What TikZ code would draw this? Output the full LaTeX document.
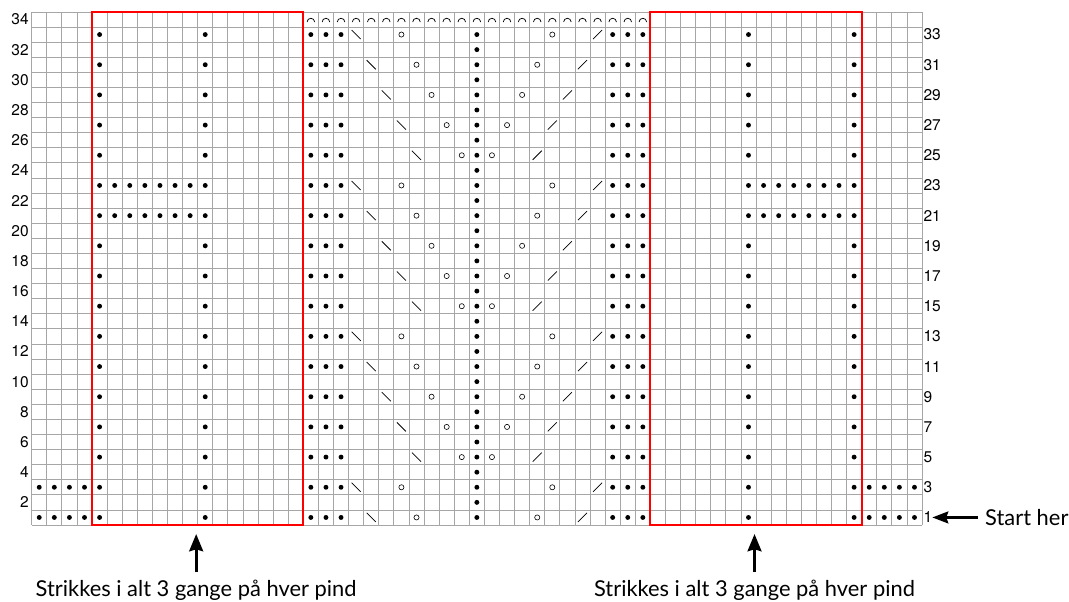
\documentclass[tikz,border=0pt]{standalone}
\usepackage{fontspec}
\setmainfont{Lato}
\newfontfamily\numfont{TeX Gyre Heros}
\usepackage{tikz}
\usetikzlibrary{arrows.meta,calc,positioning}

\begin{document}
\begin{tikzpicture}[x=0.4cm,y=0.4cm,>=Latex,
  gridline/.style={black!35,line width=0.6pt},
  repbox/.style={red,line width=1.5pt},
  dec/.style={black,line width=0.55pt},
  yo/.style={black,line width=0.45pt},
  rownum/.style={font=\numfont\fontsize{11.7}{14}\selectfont,inner sep=0pt},
  note/.style={font=\fontsize{16.5}{19}\selectfont,inner sep=0pt},
  bigarrow/.style={-{Stealth[length=13pt,width=10.5pt,inset=1.5pt]},line width=2pt},
  startarrow/.style={-{Stealth[length=12pt,width=9pt,inset=1.5pt]},line width=1.7pt}]
  \useasboundingbox (-2.10,-5.04) rectangle (68.74,34.79);
  \draw[gridline,step=0.4cm] (0,0) grid (59,34);
  \foreach \r in {1,3,...,33} {
    \foreach \c in {4,11,18,19,20,38,39,40,47,54} {\fill (\c+0.5,\r-0.5) circle (0.065cm);}
    \pgfmathtruncatemacro{\k}{mod((33-\r)/2,5)}
    \draw[dec] ({21.2+\k},{\r-0.2}) -- ++(0.6,-0.6);
    \draw[dec] ({37.2-\k},{\r-0.8}) -- ++(0.6,0.6);
    \draw[yo] ({24.5+\k},{\r-0.5}) circle (0.068cm);
    \draw[yo] ({34.5-\k},{\r-0.5}) circle (0.068cm);
  }
  \foreach \r in {1,3} {\foreach \c in {0,1,2,3,55,56,57,58} {\fill (\c+0.5,\r-0.5) circle (0.065cm);}}
  \foreach \r in {21,23} {\foreach \c in {5,6,7,8,9,10,48,49,50,51,52,53} {\fill (\c+0.5,\r-0.5) circle (0.065cm);}}
  \foreach \r in {1,...,33} {\fill (29.5,\r-0.5) circle (0.065cm);}
  \foreach \c in {18,...,40} {\draw[dec] (\c+0.25,33.33) arc (180:0:0.25);}
  \draw[repbox] (4,0) rectangle (18,34);
  \draw[repbox] (41,0) rectangle (55,34);
  \foreach \r in {2,4,...,34} {\node[rownum,anchor=east] (n\r) at (-0.18,\r-0.5) {\r};}
  \foreach \r in {1,3,...,33} {\node[rownum,anchor=west] (n\r) at (59.08,\r-0.5) {\r};}
  \node[note,anchor=west] (start) at (63.17,0.5) {Start her};
  \draw[startarrow] ([xshift=-0.18cm]start.west) -- (n1.east);
  \coordinate (tip1) at (10.9,-0.6);
  \coordinate (tip2) at (47.9,-0.6);
  \node[note,anchor=base] (rep1) at (10.9,-4.75) {Strikkes i alt 3 gange på hver pind};
  \node[note,anchor=base] (rep2) at (47.9,-4.75) {Strikkes i alt 3 gange på hver pind};
  \draw[bigarrow] ([yshift=0.2cm]rep1.north) -- (tip1);
  \draw[bigarrow] ([yshift=0.2cm]rep2.north) -- (tip2);
\end{tikzpicture}
\end{document}
